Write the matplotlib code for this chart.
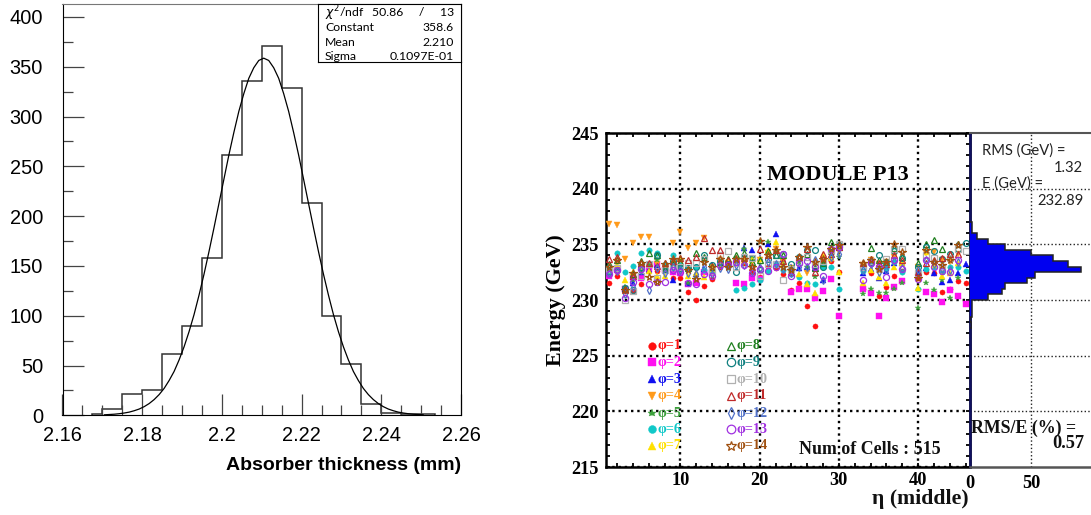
import matplotlib
matplotlib.use("Agg")
import matplotlib.pyplot as plt
import numpy as np
from matplotlib.ticker import MultipleLocator

W, H = 1091, 515
nan = np.nan

# left panel: thickness histogram + gaussian fit
thick_edges = [2.1675, 2.17, 2.175, 2.18, 2.185, 2.19, 2.195, 2.2, 2.205, 2.21, 2.215, 2.22,
               2.225, 2.23, 2.235, 2.24, 2.245, 2.25, 2.2535]
thick_counts = [1, 6, 21, 25, 62, 90, 158, 261, 336, 371, 329, 213, 100, 52, 11, 2, 1, 1]
fit_x = np.arange(65) * 0.00125 + 2.1705
fit_y = [0.5, 0.8, 1.1, 1.6, 2.3, 3.2, 4.6, 6.3, 8.7, 11.8, 15.8, 20.8, 27, 34.9, 44, 55.5,
         68.7, 83.9, 101, 120.5, 141.5, 164.2, 188, 212.5, 237, 261.4, 284, 305.2, 323, 338.4, 349, 356.3,
         358.6,
         356.3, 349, 338.4, 323, 305.2, 284, 261.4, 237, 212.5, 188, 164.2, 141.5, 120.5, 101, 83.9,
         68.7, 55.5, 44, 34.9, 27, 20.8, 15.8, 11.8, 8.7, 6.3, 4.6, 3.2, 2.3, 1.6, 1.1, 0.8, 0.5]
thick_ticks = [2.16, 2.18, 2.2, 2.22, 2.24, 2.26]
thick_labels = ["2.16", "2.18", "2.2", "2.22", "2.24", "2.26"]
stat_names = [r"$\chi^2$/ndf", "Constant", "Mean", "Sigma"]
stat_values = ["50.86     /     13", "358.6", "2.210", "0.1097E-01"]

# right panel: energy per cell, one list per phi, eta = 1..46
eta = np.arange(1, 47)
e_phi1 = [231.5, 232.2, 230.8, 230.85, 231.4, 233.0, 232.6, 233.0, 232.0, 231.95, 230.7, 230.0, 231.25, 231.9, 233.0, 233.2,
          233.6, 233.3, 232.4, 232.1, 233.0, 232.9, 232.3, 230.9, 231.55, 229.5, 227.7, 233.5, 233.5, 232.5, nan, nan,
          231.0, 232.4, 230.4, 231.2, 232.2, 232.6, nan, 232.0, 232.5, 232.4, 230.7, 231.0, 231.7, 231.5]
e_phi2 = [232.2, 232.7, 231.0, 232.1, 232.0, 232.8, 233.2, 232.7, 232.5, 232.4, 231.4, 231.5, 232.5, 232.4, nan, nan,
          231.55, 231.4, 232.0, 231.9, nan, nan, nan, 230.75, 231.0, 231.0, 230.15, 230.8, 231.9, 228.6, nan, nan,
          231.0, 230.6, 228.6, 230.2, 231.2, 231.7, nan, nan, 230.7, 230.5, 229.8, 230.9, 230.4, 229.65]
e_phi3 = [232.5, 233.0, 231.0, 231.5, 232.5, 232.7, 233.1, 233.0, 231.8, 233.0, 231.5, 232.3, 232.8, 233.1, 233.2, 233.5,
          233.7, 234.7, 234.5, 233.8, 235.0, 235.9, 233.7, 233.0, 232.9, 233.0, 232.9, 231.8, 233.8, 234.9, nan, nan,
          232.4, 232.8, 232.0, 232.6, 233.3, 233.3, nan, 232.5, 232.9, 232.4, 231.6, 231.8, 232.4, 233.2]
e_phi4 = [236.8, 236.75, 233.7, 235.15, 235.7, 235.7, 233.2, 232.9, 235.15, 236.1, 234.7, 235.1, 235.6, 233.0, 233.6, 233.3,
          233.2, 233.5, 233.4, 233.6, 234.2, 234.6, 233.4, 232.9, 233.4, 232.4, 233.2, 232.9, 233.6, 234.4, nan, nan,
          233.1, 233.6, 233.2, 233.4, 233.9, 233.3, nan, 233.0, 234.2, 234.3, 233.6, 233.4, 234.1, nan]
e_phi5 = [232.4, 232.9, 231.2, 231.8, 232.6, 233.1, 233.6, 232.8, 233.2, 233.0, 231.5, 232.2, 233.3, 232.7, 233.3, 233.4,
          233.8, 234.6, 233.8, 235.2, 235.2, 234.3, 233.2, 232.6, 233.4, 233.0, 232.1, 233.1, 234.0, 233.9, nan, nan,
          230.5, 231.0, 230.6, 230.6, 231.0, 231.5, nan, 229.3, 231.5, 230.9, 231.8, 230.2, 232.0, nan]
e_phi6 = [232.6, 234.2, 232.5, 233.05, 234.2, 234.5, 234.2, 233.2, 234.0, 233.2, 232.9, 233.0, 232.7, 232.6, 233.3, 233.0,
          230.9, 231.1, 231.4, 231.8, 232.6, 233.2, 232.7, 232.3, 232.05, 231.5, 231.4, 233.0, 233.0, 231.0, nan, nan,
          232.6, 233.2, 232.9, 232.9, 233.4, 232.5, nan, 231.0, 232.8, 233.0, 232.5, 233.0, 233.0, 232.6]
e_phi7 = [232.7, 233.1, 231.8, 232.5, 233.0, 232.6, 232.2, 232.2, 233.3, 233.7, 232.2, 232.4, 232.1, 232.8, 233.2, 233.6,
          233.5, 233.5, 233.6, 233.7, 234.5, 235.2, 233.1, 232.7, 232.3, 231.4, 230.6, 234.0, 233.8, 232.5, nan, nan,
          231.5, 232.7, 232.1, 231.5, 233.0, 233.3, nan, 231.1, 234.3, 233.1, 232.2, 232.4, 233.3, nan]
e_phi8 = [233.2, 233.6, 231.0, 232.3, 233.5, 234.2, 234.0, 232.8, 233.2, 233.4, 232.9, 234.2, 233.9, 233.0, 233.4, 233.7,
          234.0, 234.2, 233.4, 233.6, 234.4, 234.0, 234.0, 232.9, 233.9, 234.1, 232.9, 233.3, 235.2, 234.8, nan, nan,
          233.3, 234.7, 233.6, 233.4, 234.7, 233.9, nan, 233.3, 235.0, 235.4, 234.6, 234.1, 235.0, nan]
e_phi9 = [232.9, 232.7, 231.1, 230.9, 233.0, 233.2, 234.0, 232.7, 233.5, 232.9, 232.9, 233.0, 234.0, 233.1, 233.5, 233.2,
          232.5, 233.9, 233.8, 232.7, 233.7, 234.0, 234.1, 233.2, 233.9, 234.5, 234.45, 233.0, 234.3, 234.9, nan, nan,
          233.0, 233.4, 234.0, 233.4, 234.4, 233.8, nan, 233.0, 234.75, 234.4, 233.7, 234.1, 234.6, 235.1]
e_phi10 = [232.8, 232.9, 230.0, 230.85, 232.2, 233.2, 232.0, 232.7, 233.0, 233.0, 233.3, 233.3, 233.7, 232.6, 234.0, 234.4,
           233.0, 233.9, 233.8, 232.2, 233.2, 233.2, 231.8, 232.8, 233.4, 233.9, 233.2, 233.5, 234.5, 235.0, nan, nan,
           233.0, 233.5, 232.8, 233.7, 234.6, 234.6, nan, 232.4, 234.0, 233.8, 233.0, 233.8, 234.6, 234.4]
e_phi11 = [233.7, 233.9, 230.9, 232.2, 233.3, 233.3, 233.05, 233.3, 233.5, 233.8, 233.6, 233.9, 235.6, 234.5, 234.5, 233.6,
           233.7, 233.8, 233.0, 234.6, 234.0, 234.5, 233.5, 232.5, 233.9, 234.6, 232.5, 234.1, 234.1, 234.8, nan, nan,
           233.3, 233.7, 233.3, 233.2, 234.0, 233.6, nan, 232.5, 233.3, 233.6, 233.8, 234.1, 234.1, nan]
e_phi12 = [232.4, 232.6, 230.5, 231.2, 232.7, 230.9, 232.9, 232.4, 233.0, 232.7, 232.4, 232.3, 233.0, 232.3, 232.9, 232.8,
           233.1, 233.1, 232.6, 232.9, 233.4, 233.2, 232.8, 232.4, 233.0, 233.0, 233.6, 231.8, 233.9, 234.1, nan, nan,
           232.7, 233.2, 232.5, 232.7, 233.5, 232.9, nan, 232.7, 233.6, 233.2, 232.8, 232.7, 233.4, nan]
e_phi13 = [232.3, 232.7, 230.15, 231.6, 232.8, 231.4, 231.6, 231.6, 232.7, 232.5, 231.5, 231.4, 232.3, 232.2, 233.1, 233.1,
           233.4, 233.1, 232.4, 232.8, 232.6, 233.0, 234.1, 232.2, 233.3, 233.5, 233.0, 232.2, 234.6, 234.8, nan, nan,
           231.8, 233.3, 233.0, 232.1, 233.6, 232.8, nan, 231.9, 233.6, 233.0, 232.6, 232.5, 233.6, nan]
e_phi14 = [232.95, 233.55, 230.9, 232.4, 233.3, 232.1, 231.6, 233.2, 233.7, 233.7, 232.7, 231.9, 233.4, 233.0, 233.7, 233.0,
           233.7, 233.7, 233.0, 235.3, 234.0, 234.5, 233.0, 232.7, 233.9, 234.75, 233.4, 233.7, 234.6, 234.9, nan, nan,
           233.3, 233.6, 232.8, 233.4, 235.05, 234.3, nan, 232.0, 234.5, 233.4, 233.1, 233.6, 234.9, nan]
e_phi = [e_phi1, e_phi2, e_phi3, e_phi4, e_phi5, e_phi6, e_phi7, e_phi8, e_phi9, e_phi10, e_phi11, e_phi12, e_phi13, e_phi14]
phi_labels = ["φ=1", "φ=2", "φ=3", "φ=4", "φ=5", "φ=6", "φ=7", "φ=8", "φ=9", "φ=10", "φ=11", "φ=12", "φ=13", "φ=14"]

# projection onto the energy axis
proj_edges = np.arange(227.5, 237.5, 0.5)
proj_counts = [1, 0, 2, 2, 2, 15, 26, 29, 47, 53, 91, 80, 68, 50, 29, 15, 6, 2, 2]

phi_colors = ["#ff0f0f", "#ff10f0", "#1010f0", "#ff9a1a", "#3ca03c", "#10c8c8", "#ffe000",
              "#1f7f1f", "#108080", "#b0b0b0", "#c02a2a", "#5070c8", "#a030e0", "#a05010"]
phi_markers = ["o", "s", "^", "v", "*", "o", "^", "^", "o", "s", "^", "d", "o", "*"]
phi_open = [False] * 7 + [True] * 7
phi_sizes = [3.7, 4.0, 4.0, 4.0, 4.4, 3.9, 4.0, 4.4, 4.2, 4.4, 4.4, 3.9, 4.4, 5.3]

SANS = ["Liberation Sans", "DejaVu Sans"]
SERIF = ["Liberation Serif", "DejaVu Serif"]
LATO = ["Lato", "DejaVu Sans"]


def px_axes(x0, y0, x1, y1):
    return fig.add_axes([x0 / W, 1 - y1 / H, (x1 - x0) / W, (y1 - y0) / H])


def px_text(x, y, s, **kw):
    fig.text(x / W, 1 - y / H, s, **kw)


fig = plt.figure(figsize=(W / 100, H / 100), dpi=100)

# ---- left panel
ax = px_axes(62.5, 4, 461, 415.3)
ax.stairs(thick_counts, thick_edges, color="#333333", linewidth=1.1)
ax.plot(fit_x, fit_y, color="black", linewidth=0.9, solid_joinstyle="round")
ax.set_xlim(2.16, 2.26)
ax.set_ylim(0, 413)
ax.set_xticks(thick_ticks)
ax.set_xticklabels(thick_labels, family=SANS, fontsize=14.4)
ax.set_yticks(range(0, 401, 50))
ax.set_yticklabels([str(v) for v in range(0, 401, 50)], family=SANS, fontsize=14.4)
ax.xaxis.set_minor_locator(MultipleLocator(0.005))
ax.yaxis.set_minor_locator(MultipleLocator(25))
ax.tick_params(which="major", direction="in", length=15, width=0.9, color="#444444")
ax.tick_params(which="minor", direction="in", length=7, width=0.9, color="#444444")
ax.tick_params(axis="y", which="major", pad=14)
ax.tick_params(axis="x", which="major", pad=7.5)
ax.set_xlabel("Absorber thickness (mm)", loc="right", family=SANS, fontweight="bold", fontsize=14, labelpad=9)
ax.spines["top"].set_color("#777777")

box = px_axes(318, 4, 461, 62)
box.set_xticks([])
box.set_yticks([])
box.set_zorder(3)
for i, name in enumerate(stat_names):
    y = 13 + i * 14.6
    px_text(325, y, name, family=LATO, fontsize=8.8, va="center", zorder=5)
    px_text(454, y, stat_values[i], family=LATO, fontsize=8.8, va="center", ha="right", zorder=5)

# ---- right panel, main scatter
ax2 = px_axes(605.8, 133, 970, 467)
for i, values in enumerate(e_phi):
    ax2.plot(eta, values, linestyle="none", marker=phi_markers[i], markersize=phi_sizes[i],
             color=phi_colors[i], markerfacecolor="none" if phi_open[i] else phi_colors[i],
             markeredgewidth=0.9 if phi_open[i] else 0.3, zorder=3 + i * 0.01)
ax2.set_xlim(0.57, 46.55)
ax2.set_ylim(215, 245)
ax2.set_xticks([10, 20, 30, 40])
ax2.set_yticks([215, 220, 225, 230, 235, 240, 245])
ax2.xaxis.set_minor_locator(MultipleLocator(2))
ax2.yaxis.set_minor_locator(MultipleLocator(1))
ax2.tick_params(which="both", direction="in", top=True, right=True, width=1.3, length=3)
ax2.tick_params(axis="x", which="major", pad=3.5)
ax2.tick_params(axis="y", which="major", pad=5)
ax2.grid(True, which="major", color="black", linestyle=":", linewidth=1.7, zorder=1)
for lab in ax2.get_xticklabels() + ax2.get_yticklabels():
    lab.set(family=SERIF, fontweight="bold", fontsize=13.2)
for sp in ax2.spines.values():
    sp.set_linewidth(1.8)
ax2.set_axisbelow(True)

# legend rows
legend_rows = [225.9, 224.4, 222.9, 221.4, 219.85, 218.4, 216.9]
for i in range(14):
    col = i // 7
    y = legend_rows[i % 7]
    ax2.plot([6.43, 16.4][col], y, linestyle="none", marker=phi_markers[i], markersize=phi_sizes[i] + 1.8,
             color=phi_colors[i], markerfacecolor="none" if phi_open[i] else phi_colors[i],
             markeredgewidth=0.9 if phi_open[i] else 0.3)
    ax2.text([7.1, 17.1][col], y, phi_labels[i], color=phi_colors[i], family=SERIF, fontweight="bold",
             fontsize=10.2, va="center", ha="left")

px_text(838, 175, "MODULE P13", family=SERIF, fontweight="bold", fontsize=16, ha="center", va="center")
px_text(870, 450, "Num of Cells : 515", family=SERIF, fontweight="bold", fontsize=12.9, ha="center", va="center", color="#111111")
px_text(556, 300, "Energy (GeV)", family=SERIF, fontweight="bold", fontsize=15.8, rotation=90, ha="center", va="center")
px_text(920.5, 499, "η (middle)", family=SERIF, fontweight="bold", fontsize=15.7, ha="center", va="center", color="#111111")

# ---- right panel, projection
ax3 = px_axes(970, 133, 1091, 467)
ax3.stairs(proj_counts, proj_edges, orientation="horizontal", fill=True, color="#0000f0", zorder=3)
ax3.stairs(proj_counts, proj_edges, orientation="horizontal", color="#222222", linewidth=1.1, zorder=4)
ax3.set_ylim(215, 245)
ax3.set_xlim(0, 99.2)
ax3.set_xticks([0, 50])
ax3.set_xticklabels(["0", "50"], family=SERIF, fontweight="bold", fontsize=13.2)
ax3.set_yticks([220, 225, 230, 235, 240])
ax3.tick_params(left=False, labelleft=False, bottom=False, length=0, pad=5.5)
ax3.grid(True, color="#222222", linestyle=":", linewidth=1.0, zorder=1)
ax3.set_axisbelow(True)
ax3.patch.set_alpha(0)
ax3.spines["right"].set_visible(False)
ax3.spines["left"].set_linewidth(1.8)
ax3.spines["left"].set_color("#101060")
ax3.spines["top"].set_color("#555555")
ax3.spines["top"].set_linewidth(1.5)
ax3.spines["bottom"].set_color("#555555")
ax3.spines["bottom"].set_linewidth(1.8)

px_text(982, 151, "RMS (GeV) =", family=LATO, fontsize=10.6, va="center", color="#222222")
px_text(1083, 168, "1.32", family=LATO, fontsize=10.6, va="center", ha="right", color="#222222")
px_text(982, 184, "E (GeV) =", family=LATO, fontsize=10.6, va="center", color="#222222")
px_text(1084, 201, "232.89", family=LATO, fontsize=10.6, va="center", ha="right", color="#222222")
px_text(971, 428, "RMS/E (%) =", family=SERIF, fontweight="bold", fontsize=12.9, va="center", color="#111111")
px_text(1084, 444, "0.57", family=SERIF, fontweight="bold", fontsize=13.2, va="center", ha="right", color="#111111")

fig.savefig("out.png", dpi=100)
